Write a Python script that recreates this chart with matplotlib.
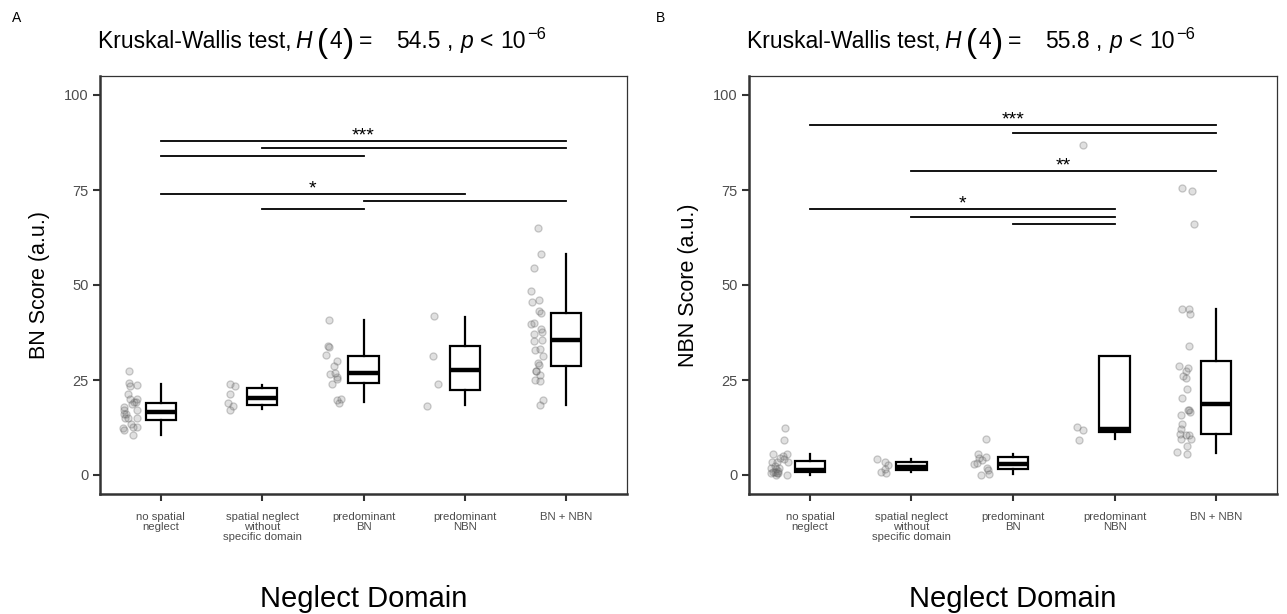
import matplotlib
matplotlib.use("Agg")
import matplotlib.pyplot as plt

plt.rcParams['font.family'] = ['Liberation Sans', 'DejaVu Sans']

# groups
groups = ['no spatial\nneglect', 'spatial neglect\nwithout\nspecific domain',
          'predominant\nBN', 'predominant\nNBN', 'BN + NBN']

# BN score: raw points per group (value) and read jitter offsets
bn_points = [
    [27.4, 24.1, 23.8, 23.3, 21.4, 20.0, 20.0, 19.1, 19.1, 18.6, 18.0, 17.1,
     17.0, 16.0, 16.0, 15.1, 14.9, 15.0, 13.3, 12.6, 12.6, 12.3, 11.8, 10.4],
    [24.0, 23.3, 21.4, 19.0, 18.2, 17.2],
    [40.8, 33.9, 33.8, 31.7, 30.0, 28.8, 26.7, 26.8, 25.9, 25.2, 23.9, 20.1,
     19.7, 19.0],
    [41.8, 31.3, 23.9, 18.2],
    [65.1, 58.2, 54.6, 48.4, 45.4, 46.0, 43.2, 42.6, 39.8, 39.9, 38.5, 37.6,
     37.2, 35.4, 35.2, 33.0, 33.2, 31.2, 29.6, 28.9, 27.5, 27.5, 26.3, 25.1,
     24.7, 19.8, 18.4],
]
bn_dx = [
    [-0.31, -0.31, -0.23, -0.30, -0.32, -0.23, -0.30, -0.26, -0.24, -0.28, -0.36, -0.23,
     -0.36, -0.36, -0.34, -0.35, -0.32, -0.23, -0.29, -0.23, -0.27, -0.37, -0.36, -0.27],
    [-0.32, -0.27, -0.32, -0.34, -0.29, -0.32],
    [-0.34, -0.35, -0.34, -0.37, -0.26, -0.29, -0.33, -0.28, -0.26, -0.26, -0.31, -0.22,
     -0.26, -0.24],
    [-0.30, -0.31, -0.26, -0.37],
    [-0.28, -0.25, -0.32, -0.35, -0.34, -0.27, -0.27, -0.25, -0.35, -0.32, -0.25, -0.24,
     -0.32, -0.24, -0.32, -0.31, -0.26, -0.23, -0.28, -0.27, -0.30, -0.30, -0.26, -0.31,
     -0.26, -0.23, -0.26],
]
# BN box statistics
bn_whislo = [10.4, 17.5, 19.2, 18.3, 18.5]
bn_q1 = [14.6, 18.3, 24.2, 22.5, 28.7]
bn_med = [16.6, 20.3, 26.8, 27.6, 35.4]
bn_q3 = [19.0, 22.8, 31.2, 33.9, 42.7]
bn_whishi = [24.0, 23.8, 40.7, 41.6, 58.2]

# NBN score
nbn_points = [
    [12.5, 9.1, 5.6, 5.6, 5.0, 4.4, 4.1, 3.5, 3.5, 3.3, 2.4, 1.9, 1.9, 1.5,
     1.1, 0.9, 0.6, 0.4, 0.0, 0.0, 0.9, 0.6],
    [4.3, 3.4, 2.6, 0.9, 0.6, 1.5],
    [9.5, 5.6, 4.8, 4.6, 3.9, 3.2, 2.8, 1.9, 1.2, 0.0, 0.2],
    [86.8, 12.7, 11.8, 9.2],
    [66.1, 75.4, 74.8, 43.8, 43.8, 42.5, 34.0, 28.6, 28.2, 27.4, 26.1, 25.4,
     22.7, 20.3, 17.0, 16.6, 15.8, 13.5, 12.1, 10.7, 9.6, 10.5, 10.5, 9.4,
     7.6, 6.1, 5.4, 17.2],
]
nbn_dx = [
    [-0.25, -0.26, -0.36, -0.23, -0.27, -0.29, -0.26, -0.37, -0.22, -0.32, -0.34, -0.38,
     -0.30, -0.33, -0.31, -0.34, -0.38, -0.32, -0.33, -0.23, -0.36, -0.31],
    [-0.34, -0.26, -0.23, -0.30, -0.25, -0.26],
    [-0.27, -0.34, -0.27, -0.33, -0.31, -0.35, -0.38, -0.26, -0.25, -0.32, -0.24],
    [-0.31, -0.37, -0.31, -0.35],
    [-0.22, -0.34, -0.24, -0.34, -0.27, -0.26, -0.27, -0.37, -0.28, -0.30, -0.33, -0.30,
     -0.29, -0.34, -0.27, -0.26, -0.35, -0.34, -0.35, -0.36, -0.35, -0.30, -0.27, -0.25,
     -0.29, -0.38, -0.29, -0.28],
]
nbn_whislo = [0.0, 0.8, 0.2, 9.4, 5.7]
nbn_q1 = [0.7, 1.2, 1.6, 11.3, 10.7]
nbn_med = [1.3, 2.1, 2.8, 12.2, 18.8]
nbn_q3 = [3.8, 3.3, 4.7, 31.3, 29.9]
nbn_whishi = [5.6, 4.2, 5.4, 31.3, 43.6]

# pairwise comparisons (group indices, bar height, label)
bn_sig_from = [1, 2, 1, 1, 3, 2]
bn_sig_to = [5, 5, 3, 4, 5, 3]
bn_sig_y = [88, 86, 84, 74, 72, 70]
bn_sig_lab = ['***', '', '', '*', '', '']

nbn_sig_from = [1, 3, 2, 1, 2, 3]
nbn_sig_to = [5, 5, 5, 4, 4, 4]
nbn_sig_y = [92, 90, 80, 70, 68, 66]
nbn_sig_lab = ['***', '', '**', '*', '', '']

bn_H = '54.5'
nbn_H = '55.8'

W, H = 1287, 614
fig = plt.figure(figsize=(W / 100, H / 100), dpi=100)
renderer = fig.canvas.get_renderer()

grey_txt = '#4d4d4d'
dark = '#333333'
TS = 16.5  # title font size


def draw_title(x0, y0, hval):
    # (text, size factor, style, gap before in px, vertical shift in px)
    pieces = [('Kruskal-Wallis test,', 1.0, 'normal', 0, 0),
              ('H', 1.0, 'italic', 4, 0),
              ('(', 1.45, 'normal', 5, -4),
              ('4', 1.0, 'normal', 1, 0),
              (')', 1.45, 'normal', 1, -4),
              ('=', 1.0, 'normal', 5, 0),
              (hval, 1.0, 'normal', 24, 0),
              (',', 1.0, 'normal', 6, 0),
              ('p', 1.0, 'italic', 7, 0),
              ('<', 1.0, 'normal', 7, 0),
              ('10', 1.0, 'normal', 7, 0),
              ('\u22126', 0.72, 'normal', 1, 9)]
    x = x0
    for txt, f, st, gap, dy in pieces:
        x += gap
        t = fig.text(x / W, (y0 + dy) / H, txt, fontsize=TS * f, style=st,
                     ha='left', va='baseline')
        x = t.get_window_extent(renderer).x1


def panel(ax, pts, dx, lo, q1, med, q3, hi, s_from, s_to, s_y, s_lab, hval, ylab):
    for i, (vals, offs) in enumerate(zip(pts, dx)):
        xs = [i + 1 + o for o in offs]
        ax.scatter(xs, vals, s=26, facecolors=(0.45, 0.45, 0.45, 0.22),
                   edgecolors=(0.35, 0.35, 0.35, 0.3), linewidths=0.9, zorder=2)
    stats = [dict(whislo=a, q1=b, med=c, q3=d, whishi=e)
             for a, b, c, d, e in zip(lo, q1, med, q3, hi)]
    ax.bxp(stats, positions=range(1, 6), widths=0.3, showfliers=False,
           showcaps=False, patch_artist=True,
           boxprops=dict(facecolor='white', edgecolor='black', linewidth=1.6),
           whiskerprops=dict(color='black', linewidth=1.6),
           medianprops=dict(color='black', linewidth=3.2, solid_capstyle='butt'),
           zorder=3)
    for a, b, y, lab in zip(s_from, s_to, s_y, s_lab):
        ax.plot([a, b], [y, y], color='black', lw=1.3, zorder=4)
        if lab:
            ax.text((a + b) / 2, y - 0.9, lab, ha='center', va='bottom',
                    fontsize=14, color='black')
    ax.set_xlim(0.4, 5.6)
    ax.set_ylim(-5, 105)
    ax.set_yticks([0, 25, 50, 75, 100])
    ax.set_xticks(range(1, 6))
    ax.set_xticklabels(groups, fontsize=8.2, color=grey_txt, linespacing=1.0)
    ax.tick_params(axis='y', labelsize=10.5, labelcolor=grey_txt, length=5,
                   width=1.5, color=dark, pad=3)
    ax.tick_params(axis='x', length=5, width=1.5, color=dark, pad=8)
    for side in ['top', 'right']:
        ax.spines[side].set_linewidth(0.9)
        ax.spines[side].set_color(dark)
    for side in ['left', 'bottom']:
        ax.spines[side].set_linewidth(1.8)
        ax.spines[side].set_color(dark)
    ax.set_ylabel(ylab, fontsize=15.5, labelpad=10)
    bb = ax.get_position()
    draw_title(bb.x0 * W - 2, H - 48, hval)
    fig.text((bb.x0 + bb.x1) / 2, 7 / H, 'Neglect Domain', ha='center',
             va='baseline', fontsize=21)


ax1 = fig.add_axes([100 / W, 1 - 494 / H, 527 / W, 418 / H])
ax2 = fig.add_axes([749 / W, 1 - 494 / H, 528 / W, 418 / H])

panel(ax1, bn_points, bn_dx, bn_whislo, bn_q1, bn_med, bn_q3, bn_whishi,
      bn_sig_from, bn_sig_to, bn_sig_y, bn_sig_lab, bn_H, 'BN Score (a.u.)')
panel(ax2, nbn_points, nbn_dx, nbn_whislo, nbn_q1, nbn_med, nbn_q3, nbn_whishi,
      nbn_sig_from, nbn_sig_to, nbn_sig_y, nbn_sig_lab, nbn_H, 'NBN Score (a.u.)')

fig.text(12 / W, 1 - 22 / H, 'A', fontsize=10, va='baseline')
fig.text(656 / W, 1 - 22 / H, 'B', fontsize=10, va='baseline')

fig.savefig('out.png', dpi=100)
